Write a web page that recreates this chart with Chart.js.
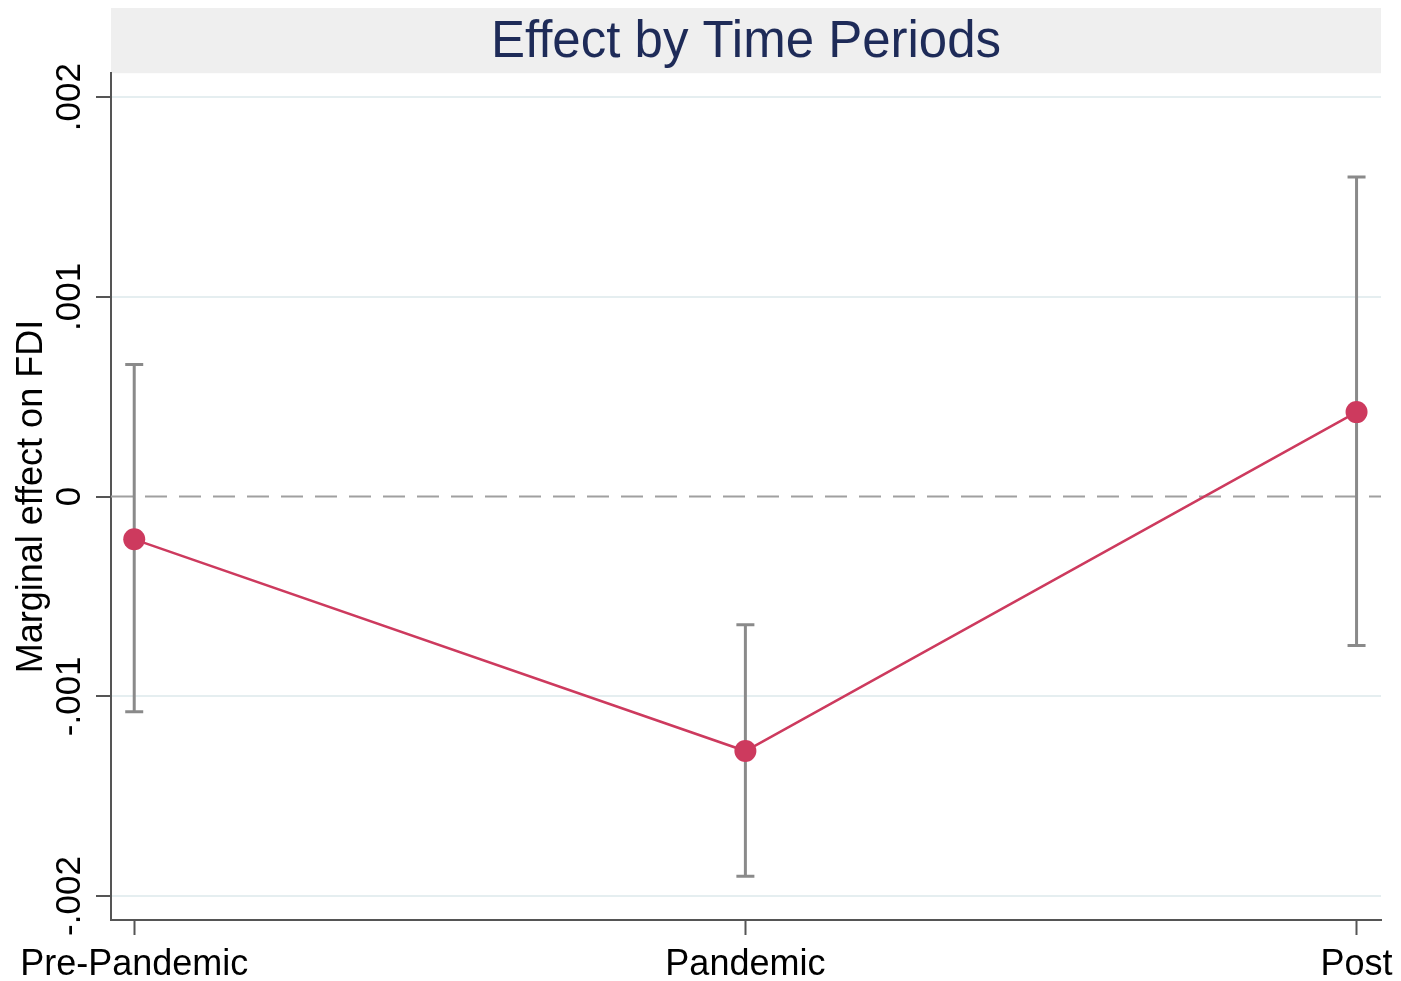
<!DOCTYPE html>
<html><head><meta charset="utf-8">
<script src="https://cdn.jsdelivr.net/npm/chart.js@4.4.1/dist/chart.umd.min.js"></script>
<style>html,body{margin:0;padding:0;background:#fff;}</style>
</head><body>
<canvas id="c" width="1401" height="981"></canvas>
<script>
// ---- data ----
const categories = ['Pre-Pandemic', 'Pandemic', 'Post'];
const estimates = [-0.000214, -0.001274, 0.000423];
const ciLower = [-0.001077, -0.001901, -0.000745];
const ciUpper = [0.000662, -0.000642, 0.0016];
const yTicks = [-0.002, -0.001, 0, 0.001, 0.002];
const yTickLabels = ['-.002', '-.001', '0', '.001', '.002'];
const zeroLineY = [0, 0];

// ---- axis ranges ----
const xMin = -0.038, xMax = 2.04;
const yMin = -0.00212, yMax = 0.00212;

const FONT = "'Liberation Sans', Arial, sans-serif";
Chart.defaults.font.family = FONT;

const red = '#cd3a5e';
const gray = '#8a8a8a';
const axisColor = '#555555';

const titleBox = {
  id: 'titleBox',
  beforeDraw(chart) {
    const { ctx, chartArea } = chart;
    ctx.save();
    ctx.fillStyle = '#efefef';
    ctx.fillRect(chartArea.left, 8, chartArea.right - chartArea.left, chartArea.top - 8);
    ctx.restore();
  }
};

const datasets = [];
datasets.push({
  label: 'estimate',
  data: categories.map((c, i) => ({ x: i, y: estimates[i] })),
  showLine: true,
  borderColor: red,
  borderWidth: 2.5,
  pointRadius: 11,
  pointBackgroundColor: red,
  pointBorderColor: red,
  pointBorderWidth: 0,
  order: 0
});
categories.forEach((c, i) => {
  datasets.push({
    label: 'ci ' + c,
    data: [{ x: i, y: ciLower[i] }, { x: i, y: ciUpper[i] }],
    showLine: true,
    borderColor: gray,
    borderWidth: 3,
    pointStyle: 'line',
    pointRadius: 9,
    pointBorderWidth: 3,
    pointBorderColor: gray,
    pointBackgroundColor: gray,
    order: 1
  });
});
datasets.push({
  label: 'zero',
  data: [{ x: xMin, y: zeroLineY[0] }, { x: xMax, y: zeroLineY[1] }],
  showLine: true,
  borderColor: '#a0a0a0',
  borderWidth: 2,
  borderDash: [22, 12],
  pointRadius: 0,
  order: 2
});

new Chart(document.getElementById('c'), {
  type: 'scatter',
  data: { datasets },
  plugins: [titleBox],
  options: {
    responsive: false,
    animation: false,
    devicePixelRatio: 1,
    events: [],
    layout: { padding: { left: 0, right: 20, top: 0, bottom: 0 } },
    plugins: {
      legend: { display: false },
      tooltip: { enabled: false },
      title: {
        display: true,
        text: 'Effect by Time Periods',
        fullSize: false,
        color: '#1e2b58',
        font: { size: 51, weight: 'normal', family: FONT, lineHeight: 1.2 },
        padding: { top: 12, bottom: 0 }
      }
    },
    scales: {
      x: {
        type: 'linear',
        min: xMin, max: xMax,
        afterBuildTicks: s => { s.ticks = categories.map((c, i) => ({ value: i })); },
        afterFit: s => { s.height = 61; },
        ticks: {
          callback: v => categories[Math.round(v)],
          font: { size: 36 },
          color: '#000',
          padding: 8,
          maxRotation: 0,
          autoSkip: false
        },
        grid: { drawOnChartArea: false, drawTicks: true, tickLength: 15, tickColor: axisColor, tickWidth: 2 },
        border: { display: true, color: axisColor, width: 2 }
      },
      y: {
        type: 'linear',
        min: yMin, max: yMax,
        afterBuildTicks: s => { s.ticks = yTicks.map(v => ({ value: v })); },
        afterFit: s => { s.width = 111; },
        ticks: {
          callback: v => {
            const k = yTicks.findIndex(t => Math.abs(t - v) < 1e-10);
            return k >= 0 ? yTickLabels[k] : '';
          },
          minRotation: 90,
          maxRotation: 90,
          crossAlign: 'center',
          padding: -14,
          font: { size: 35 },
          color: '#000',
          autoSkip: false
        },
        grid: {
          color: ctx => (ctx.tick && Math.abs(ctx.tick.value) < 1e-10) ? 'rgba(0,0,0,0)' : '#e5eef0',
          lineWidth: 2,
          drawTicks: true,
          tickLength: 15,
          tickColor: axisColor,
          tickWidth: 2
        },
        border: { display: true, color: axisColor, width: 2 },
        title: {
          display: true,
          text: 'Marginal effect on FDI',
          color: '#000',
          font: { size: 36 },
          padding: { top: 10, bottom: 0 }
        }
      }
    }
  }
});
</script>
</body></html>
